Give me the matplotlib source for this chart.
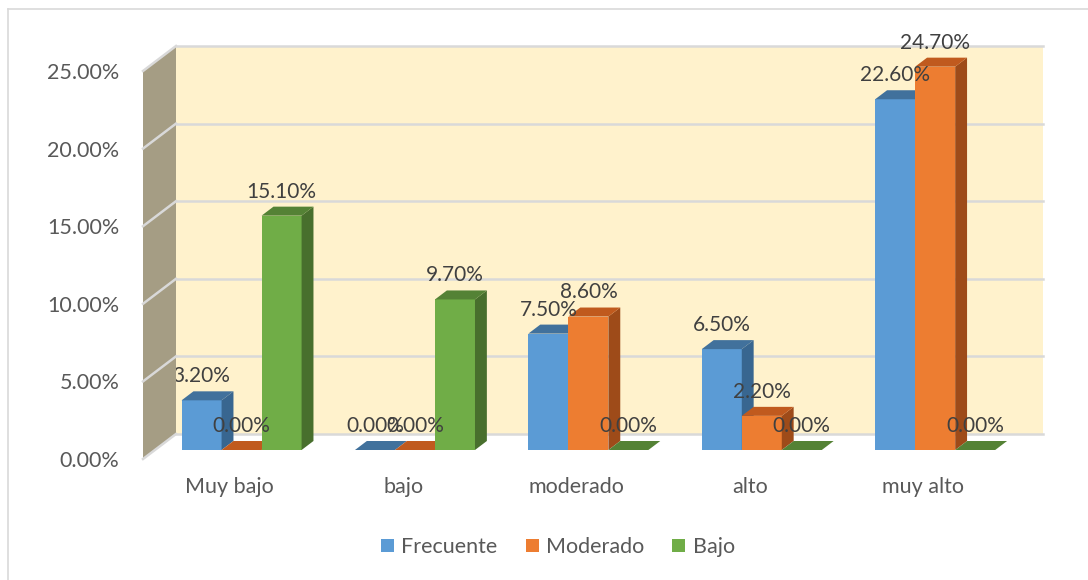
import matplotlib.pyplot as plt
from matplotlib.patches import Polygon, Rectangle
from matplotlib.lines import Line2D

categorias = ["Muy bajo", "bajo", "moderado", "alto", "muy alto"]
series = ["Frecuente", "Moderado", "Bajo"]
frecuente = [3.2, 0.0, 7.5, 6.5, 22.6]
moderado = [0.0, 0.0, 8.6, 2.2, 24.7]
bajo = [15.1, 9.7, 0.0, 0.0, 0.0]
valores = [frecuente, moderado, bajo]
yticks = [0, 5, 10, 15, 20, 25]

col_front = ["#5B9BD5", "#ED7D31", "#70AD47"]
col_top = ["#41719C", "#C05A1E", "#548235"]
col_side = ["#386690", "#9E4B19", "#486F2D"]

plt.rcParams['font.family'] = ['Lato', 'DejaVu Sans']

fig = plt.figure(figsize=(10.88, 5.8), dpi=100)
ax = fig.add_axes([143 / 1088, 121 / 580, 867 / 1088, 388 / 580])
ax.set_xlim(-0.5, 4.5)
ax.set_ylim(0, 25)
ax.patch.set_visible(False)
for s in ax.spines.values():
    s.set_visible(False)

# depth of the box in data units (oblique projection)
DX, DY = 0.1903, 1.611
def p(x, y, d):
    return (x + d * DX, y + d * DY)

# back wall + grid
ax.add_patch(Polygon([p(-0.5, 0, 1), p(4.5, 0, 1), p(4.5, 25, 1), p(-0.5, 25, 1)],
                     fc="#FFF2CC", ec="none", zorder=1, clip_on=False))
for t in yticks:
    a, b = p(-0.5, t, 1), p(4.5, t, 1)
    ax.plot([a[0], b[0]], [a[1], b[1]], color="#D9D9D9", lw=1.8, zorder=2, clip_on=False)

# left wall + grid
ax.add_patch(Polygon([p(-0.5, 0, 0), p(-0.5, 0, 1), p(-0.5, 25, 1), p(-0.5, 25, 0)],
                     fc="#A59D84", ec="none", zorder=9, clip_on=False))
for t in yticks:
    a, b = p(-0.5, t, 0), p(-0.5, t, 1)
    ax.plot([a[0], b[0]], [a[1], b[1]], color="#D9D9D9", lw=1.8, zorder=10, clip_on=False)

# bars
w = 0.2307
d0, d1 = 0.36, 0.72
for j, vals in enumerate(valores):
    z = 3 + j * 0.1
    for i, v in enumerate(vals):
        x0 = i + (j - 1.5) * w
        x1 = x0 + w
        if v > 0:
            ax.add_patch(Polygon([p(x0, 0, d0), p(x1, 0, d0), p(x1, v, d0), p(x0, v, d0)],
                                 fc=col_front[j], ec="none", zorder=z, clip_on=False))
            ax.add_patch(Polygon([p(x1, 0, d0), p(x1, 0, d1), p(x1, v, d1), p(x1, v, d0)],
                                 fc=col_side[j], ec="none", zorder=z, clip_on=False))
        ax.add_patch(Polygon([p(x0, v, d0), p(x1, v, d0), p(x1, v, d1), p(x0, v, d1)],
                             fc=col_top[j], ec="none", zorder=z, clip_on=False))
        lx, ly = p(x0 + w / 2, v, d0)
        ax.text(lx, ly + 1.55, f"{v:.2f}%", ha="center", va="center",
                fontsize=15, color="#404040", zorder=8)

ax.set_yticks(yticks)
ax.set_yticklabels([f"{t:.2f}%" for t in yticks])
ax.set_xticks(range(len(categorias)))
ax.set_xticklabels(categorias)
ax.tick_params(axis="y", length=0, pad=17, labelsize=15.5, labelcolor="#595959")
ax.tick_params(axis="x", length=0, pad=13, labelsize=15.5, labelcolor="#595959")

handles = [Rectangle((0, 0), 1, 1, fc=c, ec="none") for c in col_front]
leg = fig.legend(handles, series, loc="center", bbox_to_anchor=(558 / 1088, 1 - 547 / 580),
                 ncol=3, frameon=False, fontsize=15.5, handlelength=0.6, handleheight=0.6,
                 handletextpad=0.35, columnspacing=1.3)
for txt in leg.get_texts():
    txt.set_color("#595959")

# chart border (only left/top inside the image)
fig.add_artist(Line2D([8 / 1088, 8 / 1088], [0, 1 - 9 / 580], color="#D9D9D9", lw=1.2,
                      transform=fig.transFigure))
fig.add_artist(Line2D([8 / 1088, 1], [1 - 9 / 580, 1 - 9 / 580], color="#D9D9D9", lw=1.2,
                      transform=fig.transFigure))

fig.savefig("out.png", dpi=100)
